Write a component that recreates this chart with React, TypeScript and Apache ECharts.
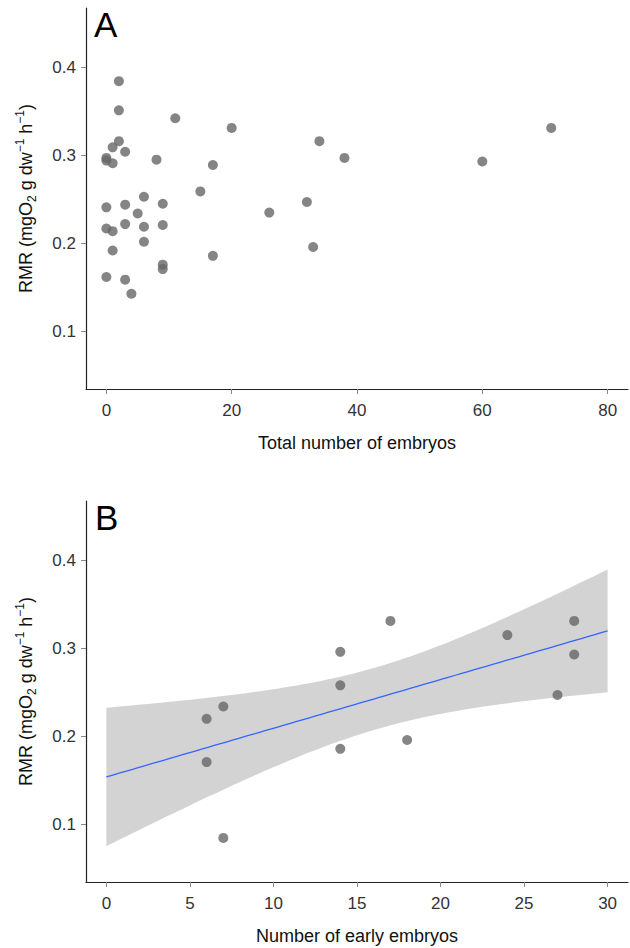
import React, { useEffect, useRef } from "react";
import * as echarts from "echarts";

// Panel A: total number of embryos vs RMR
const totalEmbryos = [2, 2, 11, 20, 2, 1, 3, 0, 0, 1, 8, 17, 15, 26, 6, 0, 3, 9, 5, 0, 1, 3, 6, 9, 6, 1, 17, 9, 9, 0, 3, 4, 34, 38, 32, 33, 60, 71];
const rmrA = [0.384, 0.351, 0.342, 0.331, 0.316, 0.309, 0.304, 0.297, 0.294, 0.291, 0.295, 0.289, 0.259, 0.235, 0.253, 0.241, 0.244, 0.245, 0.234, 0.217, 0.214, 0.222, 0.219, 0.221, 0.202, 0.192, 0.186, 0.176, 0.171, 0.162, 0.159, 0.143, 0.316, 0.297, 0.247, 0.196, 0.293, 0.331];

// Panel B: number of early embryos vs RMR
const earlyEmbryos = [6, 7, 6, 7, 14, 14, 14, 17, 18, 24, 28, 28, 27];
const rmrB = [0.22, 0.234, 0.171, 0.085, 0.296, 0.258, 0.186, 0.331, 0.196, 0.315, 0.331, 0.293, 0.247];

const xTicksA = [0, 20, 40, 60, 80];
const xTicksB = [0, 5, 10, 15, 20, 25, 30];
const yTicks = [0.1, 0.2, 0.3, 0.4];

const FONT = "'Liberation Sans', Arial, Helvetica, sans-serif";

// linear model fit with 95% confidence band (as geom_smooth(method = "lm"))
function lmFit(xs: number[], ys: number[]) {
  const n = xs.length;
  const mx = xs.reduce((a, b) => a + b, 0) / n;
  const my = ys.reduce((a, b) => a + b, 0) / n;
  let sxx = 0, sxy = 0;
  for (let i = 0; i < n; i++) {
    sxx += (xs[i] - mx) ** 2;
    sxy += (xs[i] - mx) * (ys[i] - my);
  }
  const b = sxy / sxx;
  const a = my - b * mx;
  let ssr = 0;
  for (let i = 0; i < n; i++) ssr += (ys[i] - (a + b * xs[i])) ** 2;
  const s = Math.sqrt(ssr / (n - 2));
  const t = 2.201; // t(0.975, df = 11)
  const x0 = 0;
  const x1 = 30;
  const steps = 80;
  const lower: number[][] = [];
  const upper: number[][] = [];
  const fit: number[][] = [];
  for (let k = 0; k < steps; k++) {
    const x = x0 + ((x1 - x0) * k) / (steps - 1);
    const yh = a + b * x;
    const se = s * Math.sqrt(1 / n + (x - mx) ** 2 / sxx);
    lower.push([x, yh - t * se]);
    upper.push([x, yh + t * se]);
    fit.push([x, yh]);
  }
  return { lower, upper, fit };
}

const axisLineStyle = { color: "#222", width: 1.2 };

function makeX(gridIndex: number, min: number, max: number, ticks: number[], name: string) {
  return {
    type: "value",
    gridIndex,
    min,
    max,
    splitLine: { show: false },
    axisLine: { show: true, onZero: false, lineStyle: axisLineStyle },
    axisTick: { show: true, length: 5, lineStyle: { color: "#8a8a8a", width: 1 }, customValues: ticks },
    axisLabel: { show: true, margin: 13, fontSize: 17, color: "#333", fontFamily: FONT, customValues: ticks },
    name,
    nameLocation: "middle",
    nameGap: 45,
    nameTextStyle: { fontSize: 18, color: "#111", fontFamily: FONT },
  };
}

function makeY(gridIndex: number) {
  return {
    type: "value",
    gridIndex,
    min: 0.035,
    max: 0.467,
    splitLine: { show: false },
    axisLine: { show: true, onZero: false, lineStyle: axisLineStyle },
    axisTick: { show: true, length: 5, lineStyle: { color: "#8a8a8a", width: 1 }, customValues: yTicks },
    axisLabel: { show: true, margin: 10, fontSize: 17, color: "#333", fontFamily: FONT, customValues: yTicks },
    name: "{n|RMR (mgO}{sub|2}{n| g dw}{sup|−1}{n| h}{sup|−1}{n|)}",
    nameLocation: "middle",
    nameRotate: 90,
    nameGap: 48,
    nameTextStyle: {
      fontSize: 18,
      color: "#111",
      fontFamily: FONT,
      rich: {
        n: { fontSize: 18, lineHeight: 24, fontFamily: FONT, color: "#111", verticalAlign: "middle" },
        sub: { fontSize: 12, lineHeight: 12, fontFamily: FONT, color: "#111", verticalAlign: "bottom" },
        sup: { fontSize: 12, lineHeight: 12, fontFamily: FONT, color: "#111", verticalAlign: "top" },
      },
    },
  };
}

export default function App() {
  const ref = useRef<HTMLDivElement>(null);
  useEffect(() => {
    if (!ref.current) return;
    const chart = echarts.init(ref.current, null, { renderer: "svg" });
    const band = lmFit(earlyEmbryos, rmrB);
    const pointsA = totalEmbryos.map((x, i) => [x, rmrA[i]]);
    const pointsB = earlyEmbryos.map((x, i) => [x, rmrB[i]]);
    chart.setOption({
      animation: false,
      backgroundColor: "#fff",
      grid: [
        { left: 86, top: 8, width: 542, height: 381 },
        { left: 86, top: 501, width: 542, height: 381 },
      ],
      xAxis: [
        makeX(0, -3.25, 83.25, xTicksA, "Total number of embryos"),
        makeX(1, -1.22, 31.22, xTicksB, "Number of early embryos"),
      ],
      yAxis: [makeY(0), makeY(1)],
      graphic: [
        { type: "text", left: 94, top: 7, style: { text: "A", fontSize: 35, fontFamily: FONT, fill: "#000" } },
        { type: "text", left: 95, top: 500, style: { text: "B", fontSize: 35, fontFamily: FONT, fill: "#000" } },
      ],
      series: [
        {
          type: "scatter",
          xAxisIndex: 0,
          yAxisIndex: 0,
          data: pointsA,
          symbolSize: 10,
          itemStyle: { color: "#666" },
          z: 3,
        },
        {
          type: "custom",
          xAxisIndex: 1,
          yAxisIndex: 1,
          data: band.upper,
          z: 1,
          silent: true,
          renderItem: (params: any, api: any) => {
            if (params.dataIndex !== 0) return null;
            const pts = [
              ...band.upper.map((p) => api.coord(p)),
              ...band.lower.slice().reverse().map((p) => api.coord(p)),
            ];
            return { type: "polygon", shape: { points: pts }, style: { fill: "#d3d3d3" } };
          },
        },
        {
          type: "line",
          xAxisIndex: 1,
          yAxisIndex: 1,
          data: band.fit,
          symbol: "none",
          lineStyle: { color: "#3366ff", width: 1.3 },
          z: 2,
        },
        {
          type: "scatter",
          xAxisIndex: 1,
          yAxisIndex: 1,
          data: pointsB,
          symbolSize: 10,
          itemStyle: { color: "#666" },
          z: 3,
        },
      ],
    });
    return () => chart.dispose();
  }, []);
  return <div ref={ref} style={{ position: "absolute", left: 0, top: 0, width: 630, height: 948 }} />;
}
